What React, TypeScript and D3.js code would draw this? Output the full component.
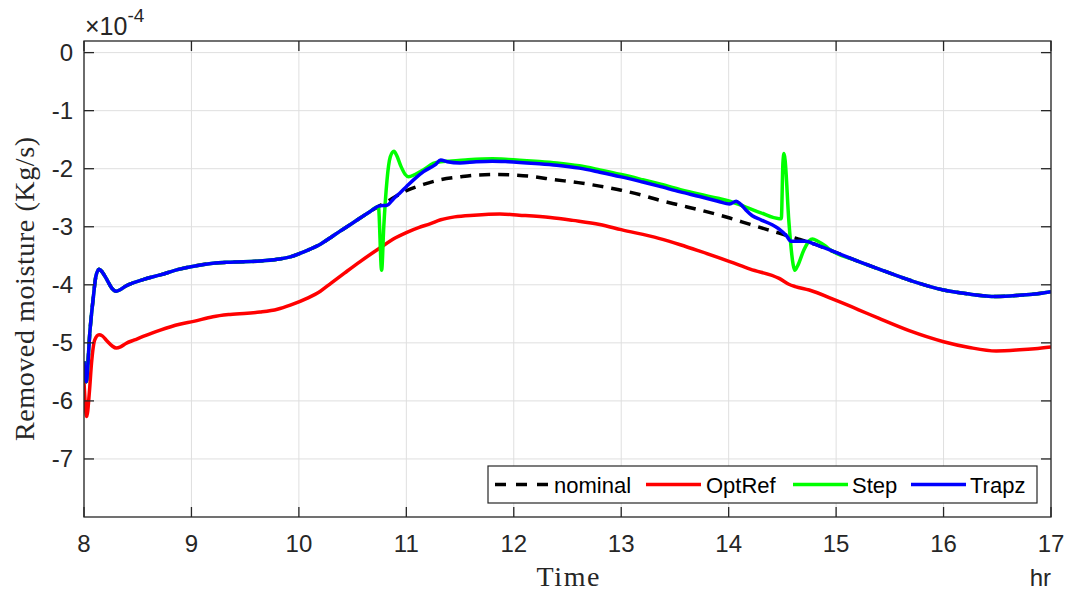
import React from "react";
import * as d3 from "d3";

// Removed moisture over the day, in units of 1e-4 Kg/s
type Pt = [number, number];

const X_TICKS = [8, 9, 10, 11, 12, 13, 14, 15, 16, 17];
const Y_TICKS = [0, -1, -2, -3, -4, -5, -6, -7];

const SERIES_NAMES = ["nominal", "OptRef", "Step", "Trapz"];

const trapz: Pt[] = [
  [8.0, -5.32], [8.02, -5.67], [8.056, -4.78], [8.087, -4.21], [8.11, -3.86],
  [8.14, -3.73], [8.17, -3.78], [8.21, -3.9], [8.26, -4.06], [8.3, -4.11],
  [8.34, -4.08], [8.39, -4.02], [8.47, -3.96], [8.55, -3.91], [8.71, -3.83],
  [8.89, -3.73], [9.02, -3.68], [9.2, -3.63], [9.36, -3.61], [9.64, -3.59],
  [9.8, -3.56], [9.92, -3.52], [10.01, -3.46], [10.1, -3.39], [10.2, -3.3],
  [10.3, -3.18], [10.38, -3.08], [10.48, -2.96], [10.57, -2.85], [10.66, -2.74],
  [10.75, -2.64], [10.82, -2.63], [10.88, -2.52], [10.95, -2.4], [11.0, -2.31],
  [11.08, -2.17], [11.16, -2.05], [11.27, -1.93], [11.32, -1.85], [11.38, -1.88],
  [11.5, -1.9], [11.65, -1.88], [11.8, -1.87], [11.95, -1.88], [12.2, -1.91],
  [12.4, -1.94], [12.61, -1.99], [12.8, -2.06], [13.0, -2.14], [13.2, -2.23],
  [13.35, -2.3], [13.55, -2.4], [13.73, -2.48], [13.9, -2.56], [14.01, -2.61],
  [14.07, -2.56], [14.11, -2.61], [14.16, -2.71], [14.22, -2.81], [14.3, -2.88],
  [14.4, -2.96], [14.47, -3.04], [14.54, -3.16], [14.58, -3.25], [14.65, -3.25],
  [14.72, -3.25], [14.8, -3.3], [14.94, -3.4], [15.2, -3.59], [15.4, -3.73],
  [15.7, -3.93], [16.0, -4.09], [16.24, -4.16], [16.49, -4.2], [16.71, -4.18],
  [16.85, -4.16], [17.0, -4.12],
];

const optRef: Pt[] = [
  [8.0, -5.67], [8.025, -6.27], [8.05, -5.85], [8.07, -5.35], [8.1, -4.95],
  [8.14, -4.86], [8.17, -4.88], [8.21, -4.96], [8.26, -5.05], [8.3, -5.09],
  [8.34, -5.07], [8.39, -5.01], [8.47, -4.95], [8.55, -4.89], [8.71, -4.78],
  [8.89, -4.68], [9.02, -4.63], [9.2, -4.55], [9.36, -4.51], [9.64, -4.47],
  [9.8, -4.42], [9.92, -4.35], [10.08, -4.23], [10.2, -4.11], [10.3, -3.97],
  [10.43, -3.79], [10.57, -3.6], [10.75, -3.37], [10.9, -3.19], [11.0, -3.1],
  [11.12, -3.01], [11.22, -2.95], [11.32, -2.88], [11.45, -2.83], [11.63, -2.8],
  [11.87, -2.78], [12.05, -2.8], [12.34, -2.84], [12.55, -2.89], [12.8, -2.96],
  [13.0, -3.05], [13.35, -3.2], [13.55, -3.31], [13.73, -3.42], [14.01, -3.6],
  [14.2, -3.73], [14.47, -3.89], [14.56, -3.99], [14.62, -4.03], [14.75, -4.09],
  [15.0, -4.27], [15.21, -4.43], [15.4, -4.58], [15.68, -4.79], [16.0, -4.98],
  [16.24, -5.08], [16.49, -5.14], [16.71, -5.12], [16.85, -5.1], [17.0, -5.07],
];

const nominal: Pt[] = [
  [8.0, -5.32], [8.02, -5.67], [8.056, -4.78], [8.087, -4.21], [8.11, -3.86],
  [8.14, -3.73], [8.17, -3.78], [8.21, -3.9], [8.26, -4.06], [8.3, -4.11],
  [8.34, -4.08], [8.39, -4.02], [8.47, -3.96], [8.55, -3.91], [8.71, -3.83],
  [8.89, -3.73], [9.02, -3.68], [9.2, -3.63], [9.36, -3.61], [9.64, -3.59],
  [9.8, -3.56], [9.92, -3.52], [10.01, -3.46], [10.1, -3.39], [10.2, -3.3],
  [10.3, -3.18], [10.38, -3.08], [10.48, -2.96], [10.57, -2.85], [10.66, -2.74],
  [10.75, -2.64], [10.82, -2.57], [10.88, -2.5], [11.0, -2.38], [11.16, -2.27],
  [11.32, -2.19], [11.5, -2.14], [11.65, -2.11], [11.85, -2.1], [12.0, -2.11],
  [12.2, -2.14], [12.34, -2.18], [12.6, -2.24], [12.8, -2.3], [13.0, -2.37],
  [13.2, -2.46], [13.35, -2.54], [13.55, -2.63], [13.73, -2.71], [14.01, -2.85],
  [14.2, -2.96], [14.47, -3.11], [14.63, -3.2], [14.72, -3.25], [14.8, -3.3],
  [14.94, -3.4], [15.2, -3.59], [15.4, -3.73], [15.7, -3.93], [16.0, -4.09],
  [16.24, -4.16], [16.49, -4.2], [16.71, -4.18], [16.85, -4.16], [17.0, -4.12],
];

const step: Pt[] = [
  [8.0, -5.32], [8.02, -5.67], [8.056, -4.78], [8.087, -4.21], [8.11, -3.86],
  [8.14, -3.73], [8.17, -3.78], [8.21, -3.9], [8.26, -4.06], [8.3, -4.11],
  [8.34, -4.08], [8.39, -4.02], [8.47, -3.96], [8.55, -3.91], [8.71, -3.83],
  [8.89, -3.73], [9.02, -3.68], [9.2, -3.63], [9.36, -3.61], [9.64, -3.59],
  [9.8, -3.56], [9.92, -3.52], [10.01, -3.46], [10.1, -3.39], [10.2, -3.3],
  [10.3, -3.18], [10.38, -3.08], [10.48, -2.96], [10.57, -2.85], [10.66, -2.74],
  [10.74, -2.65], [10.77, -3.75], [10.79, -3.0], [10.82, -2.2], [10.85, -1.8],
  [10.885, -1.7], [10.91, -1.77], [10.95, -1.96], [10.99, -2.1], [11.02, -2.14],
  [11.08, -2.1], [11.16, -2.02], [11.25, -1.91], [11.32, -1.88], [11.4, -1.87],
  [11.55, -1.85], [11.8, -1.83], [11.95, -1.84], [12.2, -1.87], [12.4, -1.9],
  [12.61, -1.95], [12.8, -2.02], [13.0, -2.1], [13.2, -2.19], [13.35, -2.26],
  [13.55, -2.36], [13.73, -2.44], [13.9, -2.51], [14.01, -2.56], [14.16, -2.66],
  [14.3, -2.76], [14.47, -2.86], [14.49, -2.86], [14.505, -1.9], [14.515, -1.74],
  [14.525, -1.85], [14.56, -2.9], [14.6, -3.65], [14.615, -3.75], [14.64, -3.68],
  [14.7, -3.4], [14.75, -3.24], [14.78, -3.21], [14.83, -3.25], [14.9, -3.33],
  [14.94, -3.39], [15.2, -3.59], [15.4, -3.73], [15.7, -3.93], [16.0, -4.09],
  [16.24, -4.16], [16.49, -4.2], [16.71, -4.18], [16.85, -4.16], [17.0, -4.12],
];

const W = 1073;
const H = 594;
const M = { left: 84, right: 1051, top: 41, bottom: 517 };

const AXIS = "#262626";
const GRID = "#dfdfdf";
const SANS = "'Liberation Sans', Arial, Helvetica, sans-serif";
const SERIF = "'Liberation Serif', 'Times New Roman', serif";

export default function App() {
  const x = d3.scaleLinear().domain([8, 17]).range([M.left, M.right]);
  const y = d3.scaleLinear().domain([-8, 0.2]).range([M.bottom, M.top]);

  const line = d3
    .line<Pt>()
    .x((d) => x(d[0]))
    .y((d) => y(d[1]))
    .curve(d3.curveMonotoneX);

  const series = [
    { name: SERIES_NAMES[0], data: nominal, color: "#000000", dash: "11 8" },
    { name: SERIES_NAMES[1], data: optRef, color: "#ff0000", dash: undefined },
    { name: SERIES_NAMES[2], data: step, color: "#00ff00", dash: undefined },
    { name: SERIES_NAMES[3], data: trapz, color: "#0000ff", dash: undefined },
  ];

  const tickLen = 10;

  // legend layout
  const legend = { x0: 488, x1: 1037, y0: 466, y1: 503 };
  const legendItems = [
    { lx: 495, tx: 554 },
    { lx: 646, tx: 706 },
    { lx: 793, tx: 852 },
    { lx: 911, tx: 970 },
  ];
  const legendY = (legend.y0 + legend.y1) / 2;

  return (
    <svg
      width={W}
      height={H}
      style={{ position: "absolute", left: 0, top: 0, background: "#fff" }}
    >
      <defs>
        <clipPath id="plot-area">
          <rect x={M.left} y={M.top} width={M.right - M.left} height={M.bottom - M.top} />
        </clipPath>
      </defs>
      <rect x={0} y={0} width={W} height={H} fill="#fff" />

      {/* grid */}
      <g stroke={GRID} strokeWidth={1}>
        {X_TICKS.map((t) => (
          <line key={"gx" + t} x1={x(t)} x2={x(t)} y1={M.top} y2={M.bottom} />
        ))}
        {Y_TICKS.map((t) => (
          <line key={"gy" + t} x1={M.left} x2={M.right} y1={y(t)} y2={y(t)} />
        ))}
      </g>

      {/* data lines */}
      <g clipPath="url(#plot-area)" fill="none" strokeLinejoin="round">
        {series.map((s) => (
          <path
            key={s.name}
            d={line(s.data) || ""}
            stroke={s.color}
            strokeWidth={3.5}
            strokeDasharray={s.dash}
          />
        ))}
      </g>

      {/* axes box and inward ticks */}
      <g stroke={AXIS} strokeWidth={1.3} fill="none">
        <rect x={M.left} y={M.top} width={M.right - M.left} height={M.bottom - M.top} />
        {X_TICKS.map((t) => (
          <g key={"tx" + t}>
            <line x1={x(t)} x2={x(t)} y1={M.bottom} y2={M.bottom - tickLen} />
            <line x1={x(t)} x2={x(t)} y1={M.top} y2={M.top + tickLen} />
          </g>
        ))}
        {Y_TICKS.map((t) => (
          <g key={"ty" + t}>
            <line x1={M.left} x2={M.left + tickLen} y1={y(t)} y2={y(t)} />
            <line x1={M.right} x2={M.right - tickLen} y1={y(t)} y2={y(t)} />
          </g>
        ))}
      </g>

      {/* tick labels */}
      <g fill={AXIS} fontFamily={SANS} fontSize={24}>
        {X_TICKS.map((t) => (
          <text key={"lx" + t} x={x(t)} y={552} textAnchor="middle">
            {t}
          </text>
        ))}
        {Y_TICKS.map((t) => (
          <text key={"ly" + t} x={73} y={y(t) + 8.5} textAnchor="end">
            {t === 0 ? "0" : "-" + Math.abs(t)}
          </text>
        ))}
      </g>

      {/* exponent */}
      <text x={85} y={35} fill={AXIS} fontFamily={SANS} fontSize={25}>
        ×10
        <tspan fontSize={19} dy={-13}>
          -4
        </tspan>
      </text>

      {/* axis titles */}
      <text
        x={568}
        y={586}
        textAnchor="middle"
        fill={AXIS}
        fontFamily={SERIF}
        fontSize={28}
        textLength={63}
        lengthAdjust="spacing"
      >
        Time
      </text>
      <text x={1051} y={586} textAnchor="end" fill={AXIS} fontFamily={SANS} fontSize={24}>
        hr
      </text>
      <text
        transform={`translate(34, 289) rotate(-90)`}
        textAnchor="middle"
        fill={AXIS}
        fontFamily={SERIF}
        fontSize={28}
        textLength={304}
        lengthAdjust="spacing"
      >
        Removed moisture (Kg/s)
      </text>

      {/* legend */}
      <g>
        <rect
          x={legend.x0}
          y={legend.y0}
          width={legend.x1 - legend.x0}
          height={legend.y1 - legend.y0}
          fill="#fff"
          stroke={AXIS}
          strokeWidth={1.2}
        />
        {series.map((s, i) => (
          <g key={"lg" + s.name}>
            <line
              x1={legendItems[i].lx}
              x2={legendItems[i].lx + 55}
              y1={legendY}
              y2={legendY}
              stroke={s.color}
              strokeWidth={3.5}
              strokeDasharray={s.dash ? "11 10" : undefined}
            />
            <text
              x={legendItems[i].tx}
              y={legendY + 8}
              fill="#000"
              fontFamily={SANS}
              fontSize={22}
            >
              {s.name}
            </text>
          </g>
        ))}
      </g>
    </svg>
  );
}
